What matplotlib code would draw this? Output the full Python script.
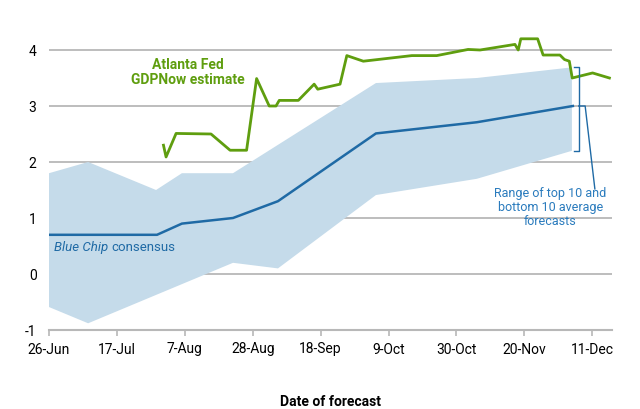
import matplotlib
matplotlib.use("Agg")
import matplotlib.pyplot as plt
import numpy as np

plt.rcParams['font.family'] = ['Roboto', 'DejaVu Sans']

# Days since 26-Jun
tick_days = [0, 21, 42, 63, 84, 105, 126, 147, 168]
tick_labels = ["26-Jun", "17-Jul", "7-Aug", "28-Aug", "18-Sep", "9-Oct", "30-Oct", "20-Nov", "11-Dec"]

# Blue Chip consensus
bc_days = [0, 33.4, 41.1, 56.9, 70.8, 101.1, 132.3, 162.0]
bc_vals = [0.7, 0.7, 0.9, 1.0, 1.3, 2.51, 2.71, 3.0]

# Range of top 10 / bottom 10 averages
top_days = [0, 12.1, 33.1, 41.1, 56.9, 101.1, 132.3, 161.7]
top_vals = [1.8, 2.0, 1.5, 1.8, 1.8, 3.41, 3.5, 3.69]
bot_days = [0, 12.1, 56.9, 70.8, 101.1, 132.3, 161.7]
bot_vals = [-0.59, -0.88, 0.2, 0.1, 1.41, 1.7, 2.2]

# Atlanta Fed GDPNow
gdp_days = [35.4, 36.2, 39.3, 50.1, 56.0, 61.1, 64.2, 68.1, 70.2, 71.2, 77.1, 82.0, 83.1,
            90.0, 92.1, 97.2, 112.2, 119.9, 129.6, 133.3, 144.1, 145.1, 145.9, 151.1,
            152.8, 158.0, 159.4, 160.9, 161.8, 168.1, 173.3]
gdp_vals = [2.3, 2.09, 2.51, 2.5, 2.21, 2.21, 3.49, 3.0, 3.0, 3.1, 3.1, 3.39, 3.3,
            3.39, 3.9, 3.8, 3.9, 3.9, 4.01, 4.0, 4.1, 4.0, 4.2, 4.2,
            3.91, 3.91, 3.83, 3.8, 3.5, 3.59, 3.5]

green = "#5f9e0f"
blue = "#1f6aa5"
band = "#c5dbea"
grid = "#b8b8b8"

fig = plt.figure(figsize=(6.4, 4.09), dpi=100)
ax = fig.add_axes([49/640, 1-330/409, (612-49)/640, (330-22)/409])

ax.set_xlim(0, 174.1)
ax.set_ylim(-1, 4.5)

for yv in [0, 1, 2, 3, 4]:
    ax.axhline(yv, color=grid, lw=1.3, zorder=1)

ax.fill(np.concatenate([top_days, bot_days[::-1]]),
        np.concatenate([top_vals, bot_vals[::-1]]),
        color=band, lw=0, zorder=2)
ax.plot(bc_days, bc_vals, color=blue, lw=1.8, zorder=3)
ax.plot(gdp_days, gdp_vals, color=green, lw=2.0, zorder=4)

# bracket for range
bx = 163.8
ax.plot([bx - 1.3, bx, bx, bx - 1.3], [top_vals[-1], top_vals[-1], bot_vals[-1], bot_vals[-1]],
        color=blue, lw=1.0, zorder=5)
ax.plot([bx, bx + 2.0, bx + 5.0], [3.0, 3.0, 1.52], color=blue, lw=1.0, zorder=5)

ax.text(155, 1.56, "Range of top 10 and\nbottom 10 average\nforecasts", color="#2a7bbd",
        fontsize=9, ha="center", va="top", linespacing=1.1, zorder=6)
ax.text(43, 3.6, "Atlanta Fed\nGDPNow estimate", color=green, fontsize=10, fontweight="bold",
        ha="center", va="center", linespacing=1.15)
t1 = ax.text(1.6, 0.48, "Blue Chip", color=blue, fontsize=9.5, style="italic", ha="left", va="center")
fig.canvas.draw()
bb = t1.get_window_extent()
inv = ax.transData.inverted()
x_end = inv.transform((bb.x1, bb.y0))[0]
ax.text(x_end + 1.0, 0.48, "consensus", color=blue, fontsize=9.5, ha="left", va="center")

ax.set_xticks(tick_days)
ax.set_xticklabels(tick_labels, fontsize=10)
ax.set_yticks([-1, 0, 1, 2, 3, 4])
ax.set_yticklabels(["-1", "0", "1", "2", "3", "4"], fontsize=10)
ax.tick_params(axis="y", length=0, pad=9)
ax.tick_params(axis="x", length=4, color=grid, width=1.2, pad=5)
for s in ["top", "right", "left"]:
    ax.spines[s].set_visible(False)
ax.spines["bottom"].set_color(grid)
ax.spines["bottom"].set_linewidth(1.5)

fig.text(330/640, 1-402/409, "Date of forecast", fontsize=10, fontweight="bold",
         ha="center", va="center")

fig.savefig("out.png", dpi=100)
